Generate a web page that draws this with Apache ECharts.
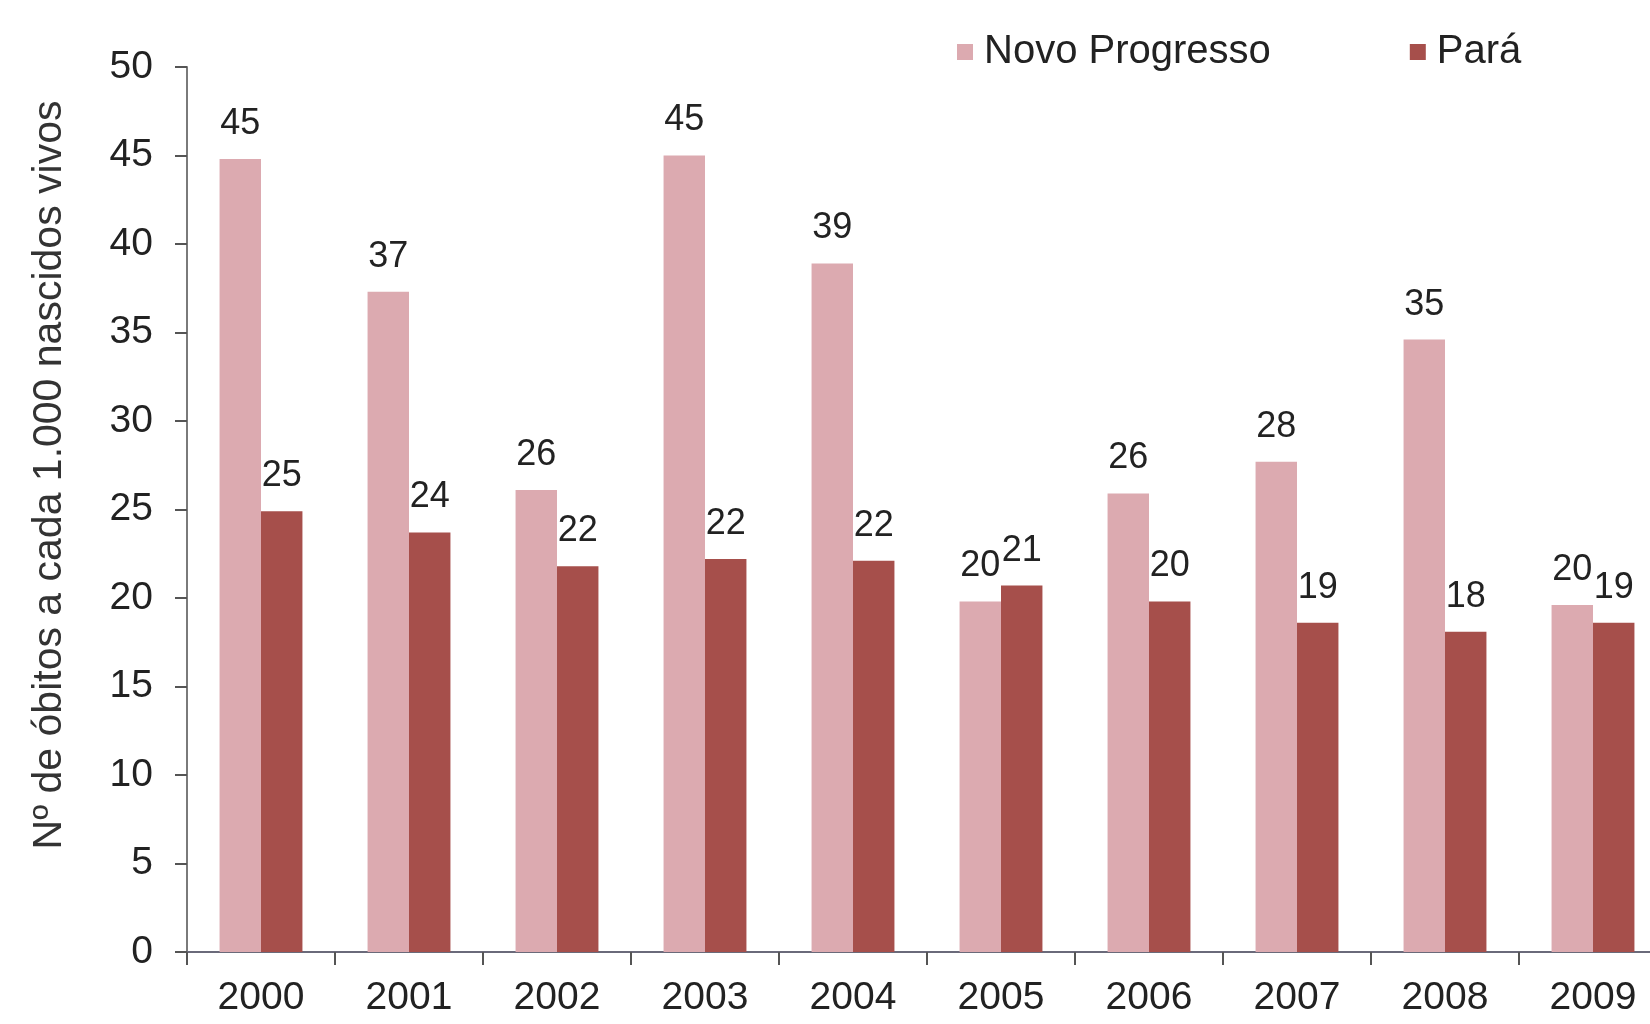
<!DOCTYPE html>
<html>
<head>
<meta charset="utf-8">
<script src="https://cdn.jsdelivr.net/npm/echarts@6/dist/echarts.min.js"></script>
<style>
html,body{margin:0;padding:0;background:#fff;}
#chart{width:1650px;height:1024px;}
</style>
</head>
<body>
<div id="chart"></div>
<script>
const categories = ['2000','2001','2002','2003','2004','2005','2006','2007','2008','2009'];
const novoProgresso = [44.8, 37.3, 26.1, 45.0, 38.9, 19.8, 25.9, 27.7, 34.6, 19.6];
const para = [24.9, 23.7, 21.8, 22.2, 22.1, 20.7, 19.8, 18.6, 18.1, 18.6];
const yTicks = [0, 5, 10, 15, 20, 25, 30, 35, 40, 45, 50];
const yAxisTitle = 'Nº de óbitos a cada 1.000 nascidos vivos';

const FONT = '"Liberation Sans", Arial, sans-serif';
const chart = echarts.init(document.getElementById('chart'), null, {renderer: 'canvas'});

const labelCfg = {
  show: true,
  position: 'top',
  distance: 17,
  fontFamily: FONT,
  fontSize: 36,
  color: '#222',
  formatter: p => Math.round(p.value)
};

chart.setOption({
  animation: false,
  backgroundColor: '#fff',
  textStyle: {fontFamily: FONT},
  legend: {
    left: 952,
    top: 27,
    itemWidth: 16,
    itemHeight: 16,
    itemGap: 139,
    icon: 'rect',
    textStyle: {fontFamily: FONT, fontSize: 40, color: '#222', padding: [0, 0, 0, 6]},
    data: ['Novo Progresso', 'Pará']
  },
  grid: {left: 187, width: 1480, top: 67, height: 885, containLabel: false, outerBoundsMode: 'none'},
  xAxis: {
    type: 'category',
    data: categories,
    axisLine: {show: true, lineStyle: {color: '#6a6a7a', width: 2}},
    axisTick: {show: true, alignWithLabel: false, length: 13, lineStyle: {color: '#555', width: 2}},
    axisLabel: {fontFamily: FONT, fontSize: 39, color: '#222', margin: 27}
  },
  yAxis: {
    type: 'value',
    min: 0,
    max: 50,
    interval: 5,
    axisLine: {show: true, lineStyle: {color: '#7a7a7a', width: 2}},
    axisTick: {show: true, inside: false, length: 12, lineStyle: {color: '#555', width: 2}},
    splitLine: {show: false},
    axisLabel: {
      fontFamily: FONT, fontSize: 39, color: '#222', margin: 34,
      formatter: v => yTicks.includes(v) ? String(v) : ''
    }
  },
  graphic: [{
    type: 'text',
    x: 50,
    y: 475,
    rotation: Math.PI / 2,
    style: {
      text: yAxisTitle,
      fontFamily: FONT,
      fontSize: 41,
      fill: '#333',
      align: 'center',
      verticalAlign: 'middle'
    }
  }],
  series: [
    {
      name: 'Novo Progresso',
      type: 'bar',
      data: novoProgresso,
      barGap: '0%',
      barCategoryGap: '44%',
      itemStyle: {color: '#dcaab0'},
      label: labelCfg
    },
    {
      name: 'Pará',
      type: 'bar',
      data: para,
      barGap: '0%',
      barCategoryGap: '44%',
      itemStyle: {color: '#a64f4b'},
      label: labelCfg
    }
  ]
});
</script>
</body>
</html>
